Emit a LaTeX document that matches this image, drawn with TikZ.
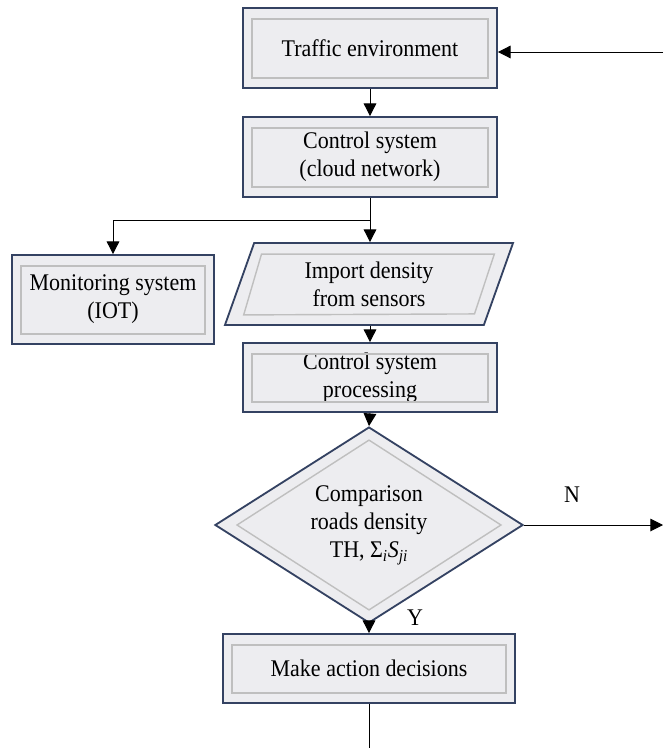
\documentclass[tikz,border=0pt]{standalone}
\usepackage{fontspec}
\setmainfont{Liberation Serif}[FakeStretch=0.92]
\usetikzlibrary{shapes.geometric,arrows.meta,positioning}

\definecolor{boxfill}{RGB}{237,237,240}
\definecolor{boxline}{RGB}{52,66,98}

\begin{document}
\begin{tikzpicture}[x=0.025cm, y=-0.025cm,
    font=\fontsize{17}{20}\selectfont,
    box/.style={draw=boxline, line width=1.3pt, fill=boxfill, align=center, inner sep=0pt},
    bevel/.style={draw=gray!50, line width=1pt},
    arrow/.style={line width=0.7pt, -{Triangle[width=9pt,length=9pt]}},
    plain/.style={line width=0.7pt}]

    % Fix the page size
    \useasboundingbox (0,0) rectangle (663,748);

    % Free ends of the connectors
    \coordinate (in) at (663,52);
    \coordinate (out) at (663,525);
    \coordinate (split) at (370,220);
    \coordinate (end) at (369,748);

    % The boxes
    \node[box, minimum width=6.35cm, minimum height=2cm] (traffic) at (370,48) {Traffic environment};
    \node[box, minimum width=6.35cm, minimum height=2cm] (control) at (370,157) {Control system\\(cloud network)};
    \node[box, minimum width=5.05cm, minimum height=2.225cm] (monitor) at (113,299.5) {Monitoring system\\(IOT)};
    \node[box, trapezium, trapezium left angle=57, trapezium right angle=123,
          trapezium stretches body, minimum width=7.2cm, minimum height=2.05cm] (import) at (369,284) {Import density\\from sensors};
    \node[box, minimum width=6.35cm, minimum height=1.725cm] (process) at (370,377.5) {Control system\\processing};
    \node[box, diamond, minimum width=7.7cm, minimum height=4.35cm] (decide) at (369,525)
        {Comparison\\roads density\\TH, Σ{\itshape\textsubscript{i}S\textsubscript{ji}}};
    \node[box, minimum width=7.3cm, minimum height=1.725cm] (action) at (369,668.5) {Make action decisions};

    % Inner bevel of the boxes
    \foreach \b in {traffic,control,monitor,process,action}
        \draw[bevel] ([shift={(10,12)}]\b.north west) rectangle ([shift={(-10,-11)}]\b.south east);
    \draw[bevel] ([shift={(8,12)}]import.top left corner) -- ([shift={(-20,12)}]import.top right corner)
        -- ([shift={(-10,-12)}]import.bottom right corner) -- ([shift={(20,-11)}]import.bottom left corner) -- cycle;
    \draw[bevel] ([shift={(0,14)}]decide.north) -- ([shift={(-23,0)}]decide.east)
        -- ([shift={(0,-14)}]decide.south) -- ([shift={(23,0)}]decide.west) -- cycle;

    % Connectors
    \draw[arrow] (in) -- (in -| traffic.east);
    \draw[arrow] (traffic) -- (control);
    \draw[plain] (control.south) -- (split);
    \draw[arrow] (split) -- (split |- import.north);
    \draw[arrow] (split) -| (monitor.north);
    \draw[arrow] (process.north |- import.south) -- (process.north);
    \draw[arrow] (process.south) -- (decide.north);
    \draw[arrow] (decide.east) -- (out);
    \draw[arrow] (decide.south) -- (action.north);
    \draw[plain] (action.south) -- (end);

    % Branch labels
    \node (no) at (572,495) {N};
    \node (yes) at (415,618) {Y};

\end{tikzpicture}
\end{document}
